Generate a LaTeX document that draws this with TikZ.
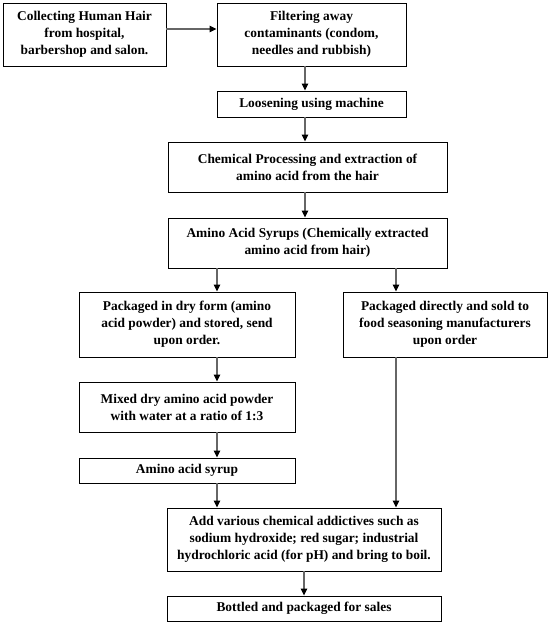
\documentclass[tikz,border=0pt]{standalone}
\usepackage{fontspec}
\setmainfont{Liberation Serif}
\usetikzlibrary{arrows.meta,calc}
\tikzset{
  boxnode/.style={draw=black, line width=0.9pt, inner sep=0pt, align=center,
    font=\fontsize{13.4}{17}\selectfont\bfseries},
  flow/.style={draw=black!60, line width=1.1pt, -{Triangle[black,length=7pt,width=6.5pt]}}
}
\begin{document}
\begin{tikzpicture}[x=1pt,y=-1pt]
\useasboundingbox (0,0) rectangle (555,632);
\node[boxnode, minimum width=163pt, minimum height=63pt] (b1) at (84.5,34.5)
  {Collecting Human Hair\\from hospital,\\barbershop and salon.};
\node[boxnode, minimum width=189pt, minimum height=63pt] (b2) at (311.5,34.5)
  {Filtering away\\contaminants (condom,\\needles and rubbish)};
\node[boxnode, minimum width=189pt, minimum height=26pt] (b3) at (311.5,104)
  {Loosening using machine};
\node[boxnode, minimum width=279pt, minimum height=50pt] (b4) at (307.5,167)
  {Chemical Processing and extraction of\\amino acid from the hair};
\node[boxnode, minimum width=279pt, minimum height=50pt] (b5) at (307.5,243)
  {Amino Acid Syrups (Chemically extracted\\amino acid from hair)};
\node[boxnode, minimum width=216pt, minimum height=65pt] (b6) at (187,324.5)
  {Packaged in dry form (amino\\acid powder) and stored, send\\upon order.};
\node[boxnode, minimum width=204pt, minimum height=65pt] (b7) at (445,324.5)
  {Packaged directly and sold to\\food seasoning manufacturers\\upon order};
\node[boxnode, minimum width=216pt, minimum height=50pt] (b8) at (187,407)
  {Mixed dry amino acid powder\\with water at a ratio of 1:3};
\node[boxnode, minimum width=216pt, minimum height=25pt] (b9) at (187,470.5)
  {Amino acid syrup};
\node[boxnode, minimum width=274pt, minimum height=63pt] (b10) at (304,539.5)
  {Add various chemical addictives such as\\sodium hydroxide; red sugar; industrial\\hydrochloric acid (for pH) and bring to boil.};
\node[boxnode, minimum width=274pt, minimum height=25pt] (b11) at (304,608.5)
  {Bottled and packaged for sales};

\coordinate (c1) at ([yshift=5.5pt]b1.east);
\draw[flow] (c1) -- (c1 -| b2.west);
\coordinate (x1) at (305,0);
\coordinate (xl) at (217,0);
\coordinate (xr) at (396,0);
\draw[flow] (x1 |- b2.south) -- (x1 |- b3.north);
\draw[flow] (x1 |- b3.south) -- (x1 |- b4.north);
\draw[flow] (x1 |- b4.south) -- (x1 |- b5.north);
\draw[flow] (xl |- b5.south) -- (xl |- b6.north);
\draw[flow] (xr |- b5.south) -- (xr |- b7.north);
\draw[flow] (xl |- b6.south) -- (xl |- b8.north);
\draw[flow] (xl |- b8.south) -- (xl |- b9.north);
\draw[flow] (xl |- b9.south) -- (xl |- b10.north);
\draw[flow] (xr |- b7.south) -- (xr |- b10.north);
\draw[flow] (b10.south) -- (b11.north);
\end{tikzpicture}
\end{document}
